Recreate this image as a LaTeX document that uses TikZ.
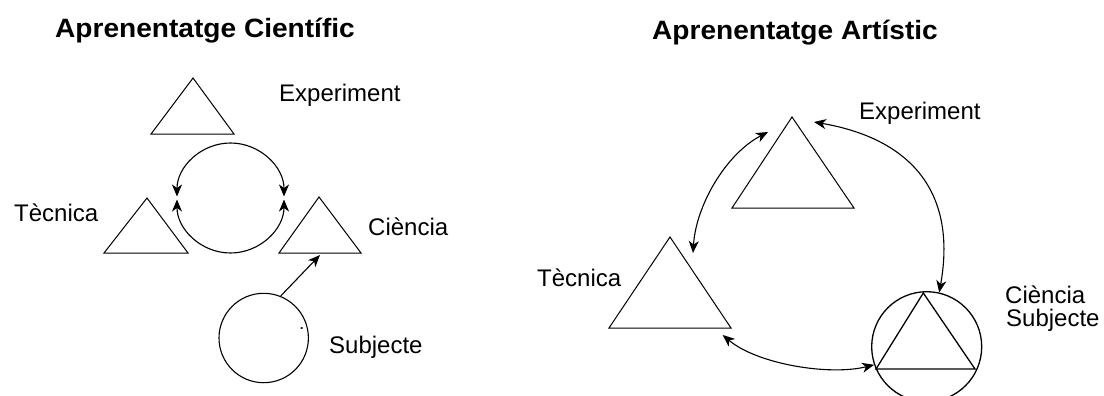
\documentclass[tikz,border=0pt]{standalone}
\usepackage{fontspec}
\setmainfont{Liberation Sans}
\usetikzlibrary{arrows.meta}
\begin{document}
\begin{tikzpicture}[x=1pt,y=-1pt,
  lbl/.style={anchor=base west, inner sep=0pt, font=\fontsize{24}{28}\selectfont},
  ttl/.style={anchor=base west, inner sep=0pt, font=\bfseries\fontsize{26.5}{30}\selectfont},
  tri/.style={draw, line width=1pt, line join=miter},
  ring/.style={circle, draw, line width=1.1pt, inner sep=0pt},
  tipx/.tip={Stealth[length=12pt,width=10pt,inset=3.5pt]},
  con/.style={line width=1.1pt, tipx-tipx},
  one/.style={line width=1.1pt, -tipx}]
\useasboundingbox (0,0) rectangle (1104,396);
\fill[white] (0,0) rectangle (1104,396);

% ---------- titles ----------
\node[ttl] (t1) at (55,38) {\scalebox{1.06}[1]{Aprenentatge Científic}};
\node[ttl] (t2) at (652,40) {\scalebox{1.06}[1]{Aprenentatge Artístic}};

% ---------- left panel ----------
\draw[tri] (193,78) -- (151,134) -- (234,134) -- cycle;
\draw[tri] (147,198) -- (104,253) -- (188,253) -- cycle;
\draw[tri] (319,197) -- (279,253) -- (361,253) -- cycle;

\node[lbl] (lexp) at (279,101.5) {Experiment};
\node[lbl] (ltec) at (14,221) {Tècnica};
\node[lbl] (lcie) at (368,235) {Ciència};
\node[lbl] (lsub) at (329,353) {Subjecte};

\coordinate (eu) at (177,196.5);
\coordinate (el) at (177,199.5);
\draw[con] (eu) arc[start angle=180, end angle=360, x radius=53.5, y radius=53.5];
\draw[con] (el) arc[start angle=180, end angle=0, x radius=53.5, y radius=53.5];

\node[ring, minimum size=89.4pt] (subj) at (263.7,338) {};
\coordinate (ltip) at (320,255);
\draw[one] (subj.68) -- (ltip);
\fill (301.7,328) ellipse[x radius=1.4, y radius=1];

% ---------- right panel ----------
\draw[tri] (792,117) -- (732,208) -- (854,208) -- cycle;
\draw[tri] (670,237) -- (609,328) -- (731,328) -- cycle;

\begin{scope}
\clip (0,0) rectangle (1104,396);
\node[ring, minimum size=110pt, line width=1.3pt] (cs) at (926.7,346.7) {};
\end{scope}
\draw[tri, line width=1.3pt] (923.3,293) -- (876,369) -- (975,369) -- cycle;

\node[lbl] (rexp) at (859,120) {Experiment};
\node[lbl] (rtec) at (537,286.7) {Tècnica};
\node[lbl] (rcie) at (1005,303) {Ciència};
\node[lbl] (rsub) at (1006,326.7) {Subjecte};

\coordinate (a1) at (768,132);
\coordinate (a2) at (693,253);
\coordinate (b1) at (814,122);
\coordinate (c1) at (722.7,335);
\draw[con] (a1) .. controls (726,154) and (696,205) .. (a2);
\draw[con] (b1) .. controls (912,139) and (957,193) .. (cs.77);
\draw[con] (c1) .. controls (757,364) and (829,376) .. (cs.199);
\end{tikzpicture}
\end{document}
